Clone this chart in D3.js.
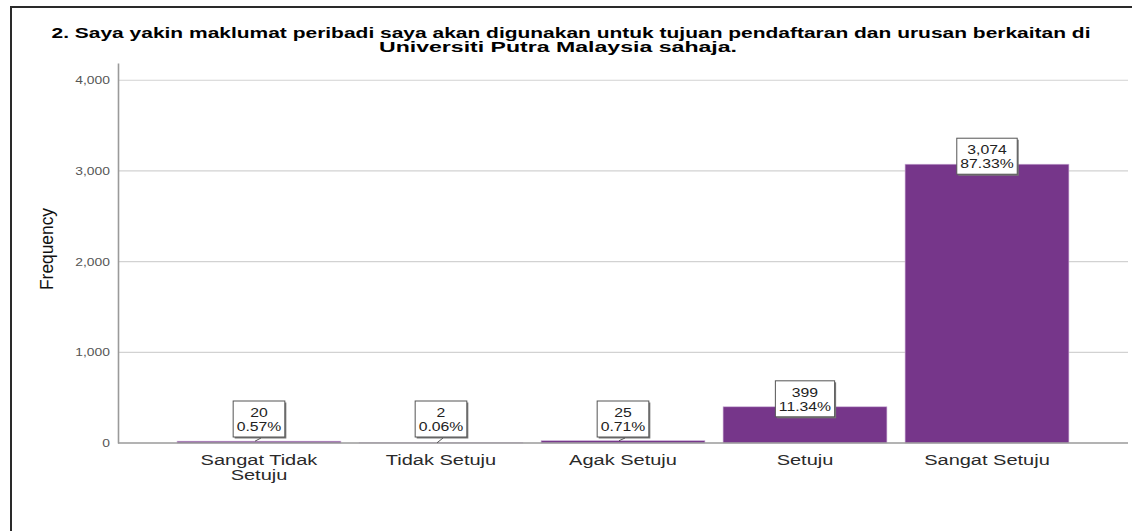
<!DOCTYPE html>
<html>
<head>
<meta charset="utf-8">
<script src="https://cdn.jsdelivr.net/npm/d3@7"></script>
<style>
  html, body { margin: 0; padding: 0; background: #fff; }
  svg { display: block; }
</style>
</head>
<body>
<svg id="chart" width="1132" height="531"></svg>
<script>
// ---- data ----
const titleLines = [
  "2. Saya yakin maklumat peribadi saya akan digunakan untuk tujuan pendaftaran dan urusan berkaitan di",
  "Universiti Putra Malaysia sahaja."
];
const yAxisTitle = "Frequency";
const categories = ["Sangat Tidak Setuju", "Tidak Setuju", "Agak Setuju", "Setuju", "Sangat Setuju"];
const frequencies = [20, 2, 25, 399, 3074];
const yTicks = [0, 1000, 2000, 3000, 4000];
const yAxisMax = 4190;

// ---- layout ----
const W = 1132, H = 531;
const plotLeft = 118, plotRight = 1128, plotBottom = 443, plotTop = 63;
const K = 1.26; // horizontal stretch of the reference's text
const FONT = "'Liberation Sans', Arial, Helvetica, sans-serif";
const barColor = "#76368a";

const svg = d3.select("#chart");

function stretch(sel, k) {
  sel.each(function () {
    const w = this.getComputedTextLength();
    this.setAttribute("textLength", w * k);
    this.setAttribute("lengthAdjust", "spacingAndGlyphs");
  });
}
function fitTo(sel, w) {
  sel.attr("textLength", w).attr("lengthAdjust", "spacingAndGlyphs");
}

// frame (clipped at right and bottom)
svg.append("path")
  .attr("d", `M11,${H} L11,7 L${W},7`)
  .attr("fill", "none").attr("stroke", "#2a2a2a").attr("stroke-width", 2);

// title
const title = svg.append("g").attr("font-family", FONT).attr("font-weight", "bold")
  .attr("font-size", 14.5).attr("fill", "#000").attr("text-anchor", "middle");
const titleLayout = [{ cx: 571, w: 1039 }, { cx: 558, w: 358 }];
titleLines.forEach((t, i) => {
  title.append("text").attr("x", titleLayout[i].cx).attr("y", 37.5 + i * 14).text(t)
    .call(fitTo, titleLayout[i].w);
});

// scales
const x = d3.scaleBand().domain(categories).range([168, 1078]).paddingInner(0.1).paddingOuter(0.05);
const y = d3.scaleLinear().domain([0, yAxisMax]).range([plotBottom, plotTop]);

// gridlines
svg.append("g").selectAll("line").data(yTicks.filter(d => d > 0)).join("line")
  .attr("x1", plotLeft).attr("x2", plotRight)
  .attr("y1", d => y(d)).attr("y2", d => y(d))
  .attr("stroke", "#d2d2d2").attr("stroke-width", 1.2);

// y axis
const yAxis = svg.append("g").attr("transform", `translate(${plotLeft},0)`)
  .call(d3.axisLeft(y).tickValues(yTicks).tickSize(0).tickPadding(8).tickFormat(d3.format(",")));
yAxis.select(".domain").attr("stroke", "#9a9a9a").attr("stroke-width", 1.6);
yAxis.selectAll("text").attr("font-family", FONT).attr("font-size", 11).attr("fill", "#555")
  .call(stretch, K);

// y axis title
svg.append("text")
  .attr("transform", `translate(53,249) scale(${K},1) rotate(-90)`)
  .attr("text-anchor", "middle").attr("font-family", FONT).attr("font-size", 15)
  .attr("fill", "#111").text(yAxisTitle)
  .call(fitTo, 82);

// bars
svg.append("g").selectAll("rect").data(categories).join("rect")
  .attr("x", d => x(d)).attr("width", x.bandwidth())
  .attr("y", (d, i) => y(frequencies[i]))
  .attr("height", (d, i) => y(0) - y(frequencies[i]))
  .attr("fill", barColor).attr("stroke", "#c7a9d3").attr("stroke-width", 0.6);

// baseline
svg.append("line").attr("x1", plotLeft).attr("x2", plotRight)
  .attr("y1", y(0)).attr("y2", y(0)).attr("stroke", "#9a9a9a").attr("stroke-width", 1.6);

// x category labels (wrapped to band width)
const xl = svg.append("g").attr("font-family", FONT).attr("font-size", 15.5)
  .attr("fill", "#2a2a2a").attr("text-anchor", "middle");
categories.forEach(c => {
  const cx = x(c) + x.bandwidth() / 2;
  const words = c.split(" ");
  const lines = [];
  let cur = "";
  const probe = xl.append("text");
  words.forEach(w => {
    const trial = cur ? cur + " " + w : w;
    probe.text(trial);
    if (cur && probe.node().getComputedTextLength() * K > x.bandwidth()) { lines.push(cur); cur = w; }
    else cur = trial;
  });
  lines.push(cur);
  probe.remove();
  lines.forEach((l, j) => {
    xl.append("text").attr("x", cx).attr("y", 465 + j * 15).text(l).call(stretch, 1.29);
  });
});

// value labels
const total = d3.sum(frequencies);
const fmtN = d3.format(",");
const fmtP = d3.format(".2%");
const lab = svg.append("g").attr("font-family", FONT).attr("font-size", 12.5).attr("fill", "#222");
categories.forEach((c, i) => {
  const v = frequencies[i];
  const cx = x(c) + x.bandwidth() / 2;
  const barTop = y(v);
  const boxH = 36;
  const cy = Math.min(barTop - 8, y(0) - 24);
  const top = cy - boxH / 2, bottom = cy + boxH / 2;
  const g = lab.append("g");
  const shadow = g.append("rect");
  const box = g.append("rect");
  const t1 = g.append("text").attr("x", cx).attr("y", top + 16).attr("text-anchor", "middle").text(fmtN(v)).call(stretch, K);
  const t2 = g.append("text").attr("x", cx).attr("y", top + 30).attr("text-anchor", "middle").text(fmtP(v / total)).call(stretch, K);
  const tw = Math.max(+t1.attr("textLength"), +t2.attr("textLength"));
  const bw = tw + 7;
  shadow.attr("x", cx - bw / 2 + 1.5).attr("y", top + 1.5).attr("width", bw).attr("height", boxH)
    .attr("fill", "#777");
  box.attr("x", cx - bw / 2).attr("y", top).attr("width", bw).attr("height", boxH)
    .attr("fill", "#fff").attr("stroke", "#555").attr("stroke-width", 1);
  if (barTop > bottom + 1) {
    lab.append("path").attr("d", `M${cx - 4},${barTop} L${cx + 2},${bottom + 1}`)
      .attr("stroke", "#555").attr("stroke-width", 1).attr("fill", "none");
  }
});
</script>
</body>
</html>
